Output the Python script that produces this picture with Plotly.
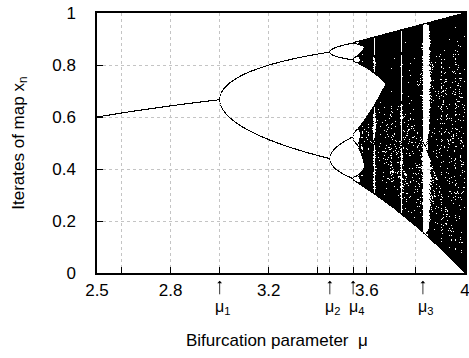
import numpy as np
import plotly.graph_objects as go

# ---- data definition ----
mu_min, mu_max = 2.5, 4.0
n_columns, n_rows = 368, 260
samples_per_column = 2
n_transient, n_keep = 1000, 500
x_start = 0.3

x_tick_vals = [2.5, 2.6, 2.8, 3.0, 3.2, 3.4, 3.449, 3.544, 3.6, 3.8, 4.0]
x_tick_text = ["2.5", "", "2.8", "", "3.2", "", "", "", "3.6", "", "4"]
y_tick_vals = [0, 0.2, 0.4, 0.6, 0.8, 1.0]
y_tick_text = ["0", "0.2", "0.4", "0.6", "0.8", "1"]

mu_marker_vals = [3.0, 3.449, 3.544, 3.8284]
mu_marker_labels = ["μ<sub>1</sub>", "μ<sub>2</sub>", "μ<sub>4</sub>", "μ<sub>3</sub>"]

# ---- iterate the logistic map ----
mus = np.linspace(mu_min, mu_max, n_columns * samples_per_column)
x = np.full_like(mus, x_start)
for _ in range(n_transient):
    x = mus * x * (1 - x)
mu_pts, x_pts = [], []
for _ in range(n_keep):
    x = mus * x * (1 - x)
    mu_pts.append(mus.copy())
    x_pts.append(x.copy())
mu_pts = np.concatenate(mu_pts)
x_pts = np.concatenate(x_pts)

counts, xe, ye = np.histogram2d(mu_pts, x_pts, bins=[n_columns, n_rows],
                                range=[[mu_min, mu_max], [0, 1]])
z = np.where(counts.T > 0, 1.0, np.nan)
xc = 0.5 * (xe[:-1] + xe[1:])
yc = 0.5 * (ye[:-1] + ye[1:])

font = "Liberation Sans, Arial, Helvetica, sans-serif"

fig = go.Figure(go.Heatmap(
    x=xc, y=yc, z=z, zmin=0, zmax=1,
    colorscale=[[0, "black"], [1, "black"]],
    showscale=False, hoverinfo="skip",
))

axis_common = dict(
    showline=True, linecolor="black", linewidth=1.5, mirror=True,
    ticks="inside", ticklen=6, tickcolor="black", tickwidth=1,
    showgrid=True, gridcolor="#c4c4c4", griddash="dot", gridwidth=1,
    zeroline=False, automargin=False, ticklabeloverflow="allow",
    tickfont=dict(family=font, size=17, color="black"),
)

fig.update_layout(
    width=469, height=358,
    margin=dict(l=97, r=4, t=13, b=85),
    paper_bgcolor="white", plot_bgcolor="white",
    xaxis=dict(range=[mu_min, mu_max], tickmode="array",
               tickvals=x_tick_vals, ticktext=x_tick_text,
               ticklabelstandoff=1, **axis_common),
    yaxis=dict(range=[0, 1], tickmode="array",
               tickvals=y_tick_vals, ticktext=y_tick_text,
               ticklabelstandoff=16, **axis_common),
)

annotations = []
for mv, lab in zip(mu_marker_vals, mu_marker_labels):
    annotations.append(dict(
        x=mv, y=-0.03, xref="x", yref="paper",
        text="", showarrow=True, ax=0, ay=15,
        arrowhead=1, arrowsize=1, arrowwidth=0.8, arrowcolor="black",
        standoff=0, startstandoff=0,
    ))
    annotations.append(dict(
        x=mv, y=-0.132, xref="x", yref="paper",
        xanchor="center", yanchor="middle", xshift=3,
        text=lab, showarrow=False,
        font=dict(family=font, size=16, color="black"),
    ))
annotations.append(dict(
    x=0.5, y=-0.258, xref="paper", yref="paper",
    xanchor="center", yanchor="middle", xshift=-4,
    text="Bifurcation parameter  μ", showarrow=False,
    font=dict(family=font, size=17, color="black"),
))
annotations.append(dict(
    x=-0.21, y=0.5, xref="paper", yref="paper", textangle=-90,
    xanchor="center", yanchor="middle",
    text="Iterates of map x<sub>n</sub>", showarrow=False,
    font=dict(family=font, size=17, color="black"),
))
fig.update_layout(annotations=annotations)

fig.write_html("out.html")
